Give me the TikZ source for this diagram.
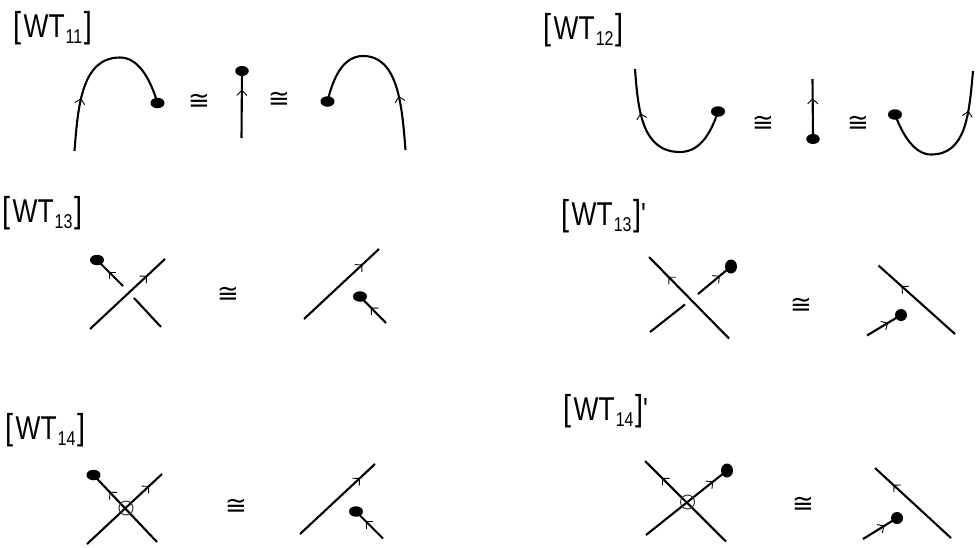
\documentclass[tikz,border=0pt]{standalone}
\usepackage{fontspec}
\newfontfamily\lblf[FakeStretch=0.8]{Liberation Sans}
\newfontfamily\symf{DejaVu Sans}
\usetikzlibrary{arrows.meta,decorations.markings,shapes.geometric}
\newcommand{\wtl}[2]{\lblf{\fontsize{36}{36}\selectfont[}\kern2.5pt{\fontsize{33}{33}\selectfont WT}\kern1pt\raisebox{-6pt}{\fontsize{20}{20}\selectfont #1}\kern1.5pt{\fontsize{36}{36}\selectfont]}{\fontsize{32}{32}\selectfont #2}}
\tikzset{
  x=1pt,y=-1pt,
  strand/.style={line width=2.1pt,black,line cap=butt},
  dotl/.style={ellipse,fill=black,draw=none,inner sep=0pt,minimum width=14pt,minimum height=10.5pt},
  dotv/.style={ellipse,fill=black,draw=none,inner sep=0pt,minimum width=12pt,minimum height=14pt},
  dotr/.style={circle,fill=black,draw=none,inner sep=0pt,minimum size=12pt},
  virt/.style={circle,draw=black!80,line width=1pt,inner sep=0pt,minimum size=14pt},
  cong/.style={inner sep=0pt,font=\symf\fontsize{26}{26}\selectfont},
  wlabel/.style={inner sep=0pt,anchor=base west},
  arr/.style={postaction={decorate,decoration={markings,mark=at position #1 with {\arrow[line width=.9pt]{Straight Barb[length=5pt,width=10pt]}}}}}
}
\begin{document}
\begin{tikzpicture}
\useasboundingbox (0,0) rectangle (977,547);
% labels
\node[wlabel] (l11) at (13,37) {\wtl{11}{}};
\node[wlabel] (l12) at (543,39) {\wtl{12}{}};
\node[wlabel] (l13) at (2,222) {\wtl{13}{}};
\node[wlabel] (l13p) at (561,225) {\wtl{13}{'}};
\node[wlabel] (l14) at (5,439) {\wtl{14}{}};
\node[wlabel] (l14p) at (563,420) {\wtl{14}{'}};
% congruence signs
\foreach \n/\x/\y in {c1/199/102,c2/279/100,c3/763/124,c4/858/124,c5/228/295,c6/801/306,c7/236/507,c8/803/505}
  \node[cong] (\n) at (\x,\y) {≅};
% WT11
\node[dotl] (d1) at (157.5,103) {};
\coordinate (a1) at (74.5,151);
\draw[strand,arr=0.3] (a1) .. controls (78,105) and (82,57.5) .. (120,57.5) .. controls (138,57.5) and (150,78) .. (d1.center);
\node[dotl,minimum width=13.5pt,minimum height=10pt] (d2) at (242,71) {};
\coordinate (a2) at (241.5,138);
\draw[strand,arr=0.72] (a2) -- (d2.center);
\node[dotl] (d3) at (327.5,101.5) {};
\coordinate (a3) at (405.5,150);
\draw[strand,arr=0.31] (a3) .. controls (402,105) and (398,56) .. (363,56) .. controls (343,56) and (333,78) .. (d3.center);
% WT12
\node[dotl] (d4) at (718,111.5) {};
\coordinate (a4) at (635,69);
\draw[strand,arr=0.73] (d4.center) .. controls (711,133) and (700,152) .. (680,152) .. controls (642,152) and (638,110) .. (a4);
\node[dotl,minimum width=13.5pt,minimum height=10pt] (d5) at (813,139) {};
\coordinate (a5) at (812.5,79);
\draw[strand,arr=0.68] (d5.center) -- (a5);
\node[dotl] (d6) at (895,114.5) {};
\coordinate (a6) at (973,71);
\draw[strand,arr=0.75] (d6.center) .. controls (903,136) and (915,154.5) .. (931,154.5) .. controls (966,154.5) and (969,115) .. (a6);
% WT13
\coordinate (b1) at (90,329); \coordinate (b2) at (165,259);
\draw[strand,arr=0.76] (b1) -- (b2);
\node[dotl] (d7) at (97,260) {};
\coordinate (b3) at (123,286); \coordinate (b4) at (134,298); \coordinate (b5) at (161,327);
\draw[strand] (b5) -- (b4);
\draw[strand,arr=0.55] (b3) -- (d7.center);
\coordinate (b6) at (304,319); \coordinate (b7) at (379,249);
\draw[strand,arr=0.78] (b6) -- (b7);
\node[dotl] (d8) at (360,296.5) {};
\coordinate (b8) at (386,323);
\draw[strand,arr=0.58] (b8) -- (d8.center);
% WT13'
\coordinate (e1) at (729,338.5); \coordinate (e2) at (649,257);
\draw[strand,arr=0.76] (e1) -- (e2);
\coordinate (e3) at (650,332); \coordinate (e4) at (685,304.5); \coordinate (e5) at (698,294);
\node[dotv] (d9) at (731,266.5) {};
\draw[strand] (e3) -- (e4);
\draw[strand,arr=0.66] (e5) -- (d9.center);
\coordinate (e6) at (955,334); \coordinate (e7) at (878.5,265.5);
\draw[strand,arr=0.7] (e6) -- (e7);
\coordinate (e8) at (867,335.5);
\node[dotr] (d10) at (901,315) {};
\draw[strand,arr=0.62] (e8) -- (d10.center);
% WT14
\coordinate (f1) at (87,544); \coordinate (f2) at (162,474);
\draw[strand,arr=0.83] (f1) -- (f2);
\node[dotl] (d11) at (93.5,475) {};
\coordinate (f3) at (157,542);
\draw[strand,arr=0.75] (f3) -- (d11.center);
\node[virt] (v1) at (126,508) {};
\coordinate (f4) at (300,534); \coordinate (f5) at (375,464);
\draw[strand,arr=0.8] (f4) -- (f5);
\node[dotl] (d12) at (356,511.5) {};
\coordinate (f6) at (383,538.5);
\draw[strand,arr=0.64] (f6) -- (d12.center);
% WT14'
\coordinate (g1) at (726,541.5); \coordinate (g2) at (645,461);
\draw[strand,arr=0.79] (g1) -- (g2);
\coordinate (g3) at (646,535);
\node[dotv] (d13) at (727,470.5) {};
\draw[strand,arr=0.83] (g3) -- (d13.center);
\node[virt] (v2) at (687.5,502) {};
\coordinate (g4) at (951,538); \coordinate (g5) at (875,468);
\draw[strand,arr=0.76] (g4) -- (g5);
\coordinate (g6) at (863,539);
\node[dotr] (d14) at (897,518) {};
\draw[strand,arr=0.63] (g6) -- (d14.center);
\end{tikzpicture}
\end{document}
